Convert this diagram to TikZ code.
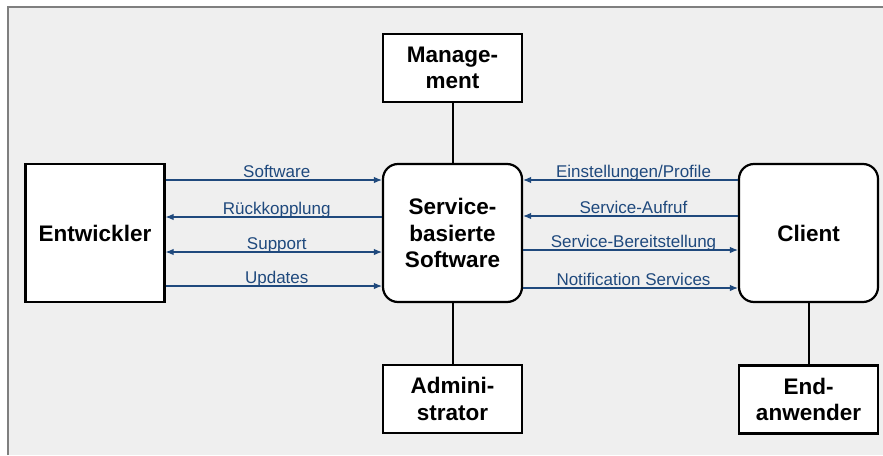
\documentclass[tikz,border=0pt]{standalone}
\usepackage{fontspec}
\setmainfont{Liberation Sans}
\usetikzlibrary{arrows.meta}
\begin{document}
\begin{tikzpicture}[x=1pt,y=-1pt,
  >={Latex[length=8pt,width=6.5pt]},
  box/.style={draw=black,line width=2.2pt,fill=white,align=center,inner sep=0pt,
    font=\fontsize{22.5}{26.5}\selectfont\bfseries},
  bigbox/.style={box,minimum width=139pt,minimum height=138pt},
  smallbox/.style={box,minimum width=139pt,minimum height=68pt},
  roundbox/.style={bigbox,rounded corners=15pt},
  link/.style={draw=black,line width=2pt},
  flow/.style={draw=flowColor,line width=1.1pt},
  flowlabel/.style={text=flowColor,anchor=base,inner sep=0pt,xshift=3pt,yshift=2.5pt,
    font=\fontsize{17}{20}\selectfont}]
\definecolor{frameColor}{RGB}{127,127,127}
\definecolor{fillColor}{RGB}{239,239,239}
\definecolor{flowColor}{RGB}{31,73,125}
\path[use as bounding box,fill=white] (0,0) rectangle (883,455);
\path[fill=fillColor] (8,7) rectangle (883,455);
\path[draw=frameColor,line width=2pt] (8,455) -- (8,7) -- (883,7);

% boxes
\node[bigbox] (ent) at (95,233) {Entwickler};
\node[roundbox] (srv) at (452.5,233) {Service-\\basierte\\Software};
\node[roundbox] (cli) at (808.5,233) {Client};
\node[smallbox] (mgt) at (452.5,68) {Manage-\\ment};
\node[smallbox] (adm) at (452.5,399) {Admini-\\strator};
\node[smallbox] (usr) at (808.5,399.5) {End-\\anwender};

% vertical links
\path[link] (mgt.south) -- (srv.north);
\path[link] (srv.south) -- (adm.north);
\path[link] (cli.south) -- (usr.north);

% Entwickler <-> Software
\draw[flow,->] (ent.east |- 0,180) -- node[flowlabel] {Software} (srv.west |- 0,180);
\draw[flow,<-] (ent.east |- 0,217) -- node[flowlabel] {Rückkopplung} (srv.west |- 0,217);
\draw[flow,<->] (ent.east |- 0,252) -- node[flowlabel] {Support} (srv.west |- 0,252);
\draw[flow,->] (ent.east |- 0,286) -- node[flowlabel] {Updates} (srv.west |- 0,286);

% Software <-> Client
\draw[flow,<-] (srv.east |- 0,180) -- node[flowlabel] {Einstellungen/Profile} (cli.west |- 0,180);
\draw[flow,<-] (srv.east |- 0,216) -- node[flowlabel] {Service-Aufruf} (cli.west |- 0,216);
\draw[flow,->] (srv.east |- 0,250) -- node[flowlabel] {Service-Bereitstellung} (cli.west |- 0,250);
\draw[flow,->] (srv.east |- 0,288) -- node[flowlabel] {Notification Services} (cli.west |- 0,288);
\end{tikzpicture}
\end{document}
